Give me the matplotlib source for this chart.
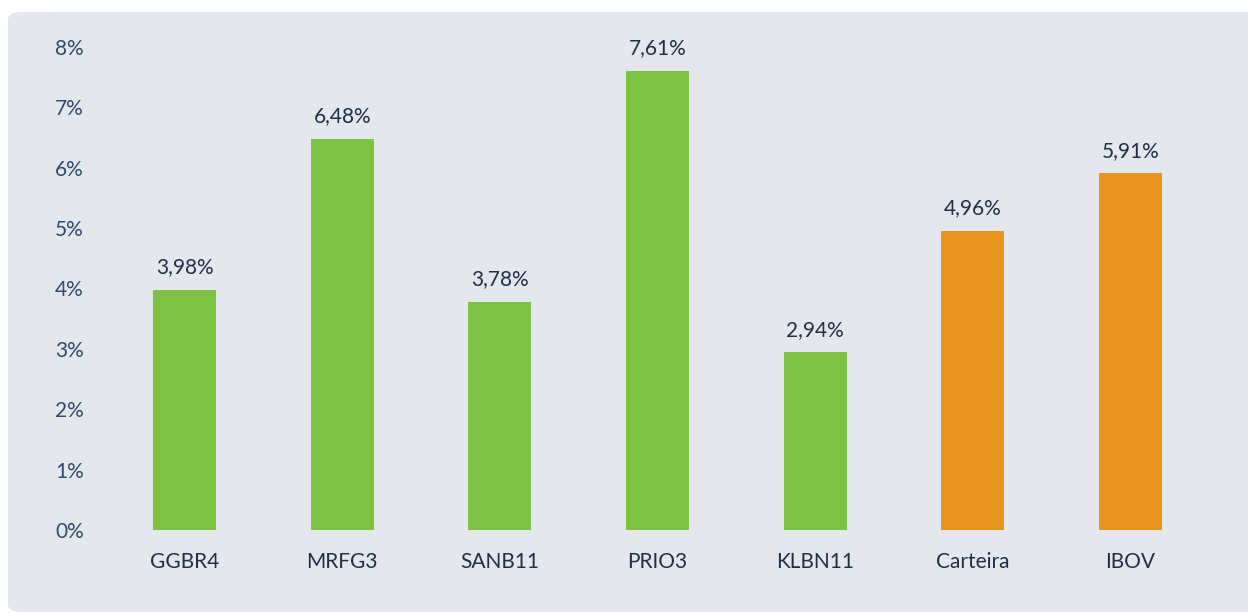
import matplotlib.pyplot as plt
from matplotlib.patches import FancyBboxPatch

categorias = ['GGBR4', 'MRFG3', 'SANB11', 'PRIO3', 'KLBN11', 'Carteira', 'IBOV']
valores = [3.98, 6.48, 3.78, 7.61, 2.94, 4.96, 5.91]
cores = ['#7DC242'] * 5 + ['#E8941C'] * 2
yticks = [0, 1, 2, 3, 4, 5, 6, 7, 8]

plt.rcParams['font.family'] = ['Lato', 'DejaVu Sans']

fig = plt.figure(figsize=(12.48, 6.13), dpi=100)
fig.patch.set_facecolor('white')
painel = FancyBboxPatch((8 / 1248, 1 / 613), 1260 / 1248, 600 / 613,
                        boxstyle='round,pad=0,rounding_size=0.012',
                        transform=fig.transFigure, facecolor='#E4E7EC',
                        edgecolor='none', zorder=-1)
fig.patches.append(painel)

ax = fig.add_axes([106 / 1248, 83 / 613, 1103 / 1248, 483 / 613])
ax.set_facecolor('none')
x = range(len(categorias))
barras = ax.bar(x, valores, width=0.4, color=cores)

for b, v in zip(barras, valores):
    ax.annotate(('%.2f%%' % v).replace('.', ','),
                (b.get_x() + b.get_width() / 2, v),
                xytext=(0, 9), textcoords='offset points',
                ha='center', va='bottom', fontsize=15, color='#1F2F4A')

ax.set_xlim(-0.5, 6.5)
ax.set_ylim(0, 8)
ax.set_yticks(yticks)
ax.set_yticklabels(['%d%%' % t for t in yticks])
ax.set_xticks(list(x))
ax.set_xticklabels(categorias)
ax.tick_params(axis='y', length=0, pad=16, labelsize=15, labelcolor='#2E4A72')
ax.tick_params(axis='x', length=0, pad=16, labelsize=15, labelcolor='#1F2F4A')
for s in ax.spines.values():
    s.set_visible(False)

fig.savefig('out.png', dpi=100)
